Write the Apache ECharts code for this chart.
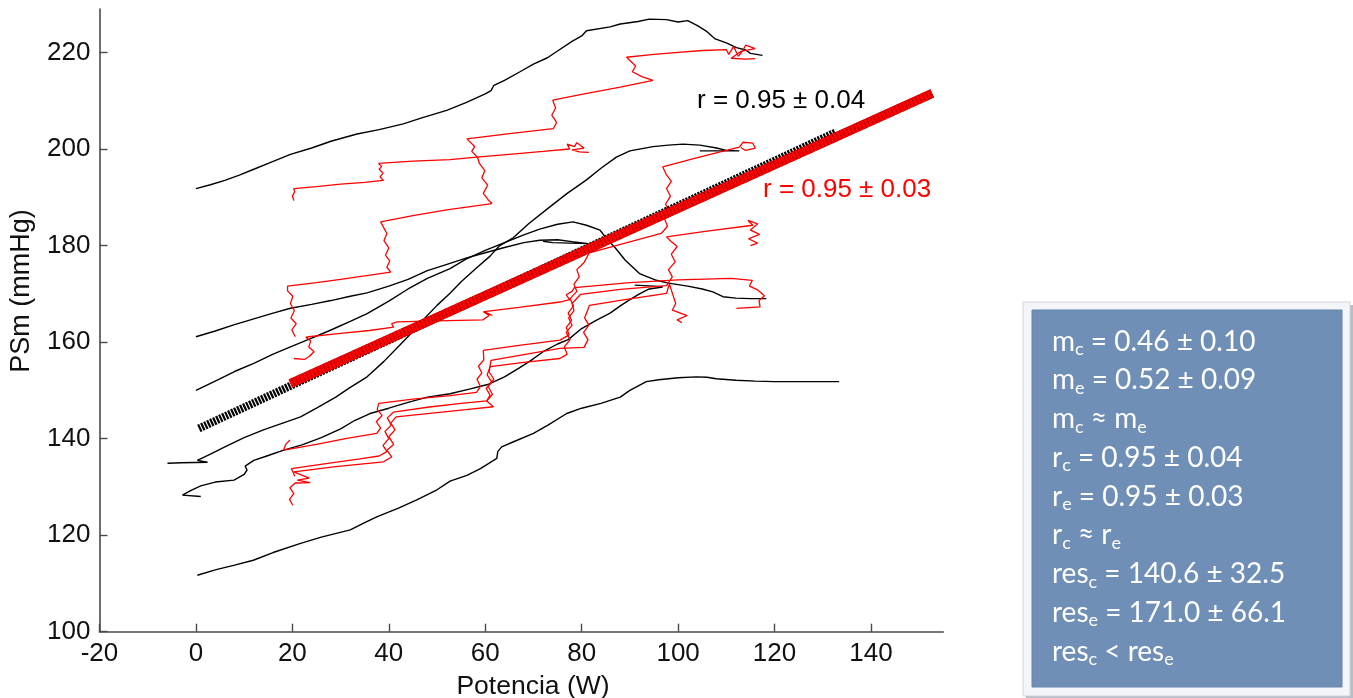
<!DOCTYPE html>
<html><head><meta charset="utf-8">
<script src="https://cdn.jsdelivr.net/npm/echarts@6/dist/echarts.min.js"></script>
<style>html,body{margin:0;padding:0;background:#fff}#c{width:1353px;height:698px}</style>
</head><body><div id="c"></div>
<script>
// ---- axis ticks ----
const xTicks = [-20, 0, 20, 40, 60, 80, 100, 120, 140];
const yTicks = [100, 120, 140, 160, 180, 200, 220];

// ---- control (black) curves: [Potencia W, PSm mmHg] ----
const control1 = [[0,191.8],[3,192.6],[6,193.5],[9,194.6],[12,195.8],[15,197],[19.6,198.9],[24,200.2],[28,201.6],[33.4,203.1],[38,204],[43,205.2],[47,206.5],[52,208],[56,209.6],[60,211.4],[61.2,212.1],[61.8,213.2],[64,214.2],[67.2,216],[70,217.6],[72.9,218.9],[75,220.3],[78,222.3],[80.1,223.5],[81,224.5],[85.9,225.3],[88,225.9],[91.7,226.4],[94,226.9],[97.6,226.8],[100,226.3],[102,226.6],[104.1,225.5],[106,224.3],[107.7,222.8],[110,222],[112.1,221],[114,220.5],[115,219.8],[117.5,219.4]];
const control2 = [[0,161.1],[4,162.3],[8,163.6],[12,164.8],[16,166],[19.6,167],[24,167.8],[28,168.6],[32,169.5],[35.5,170.2],[40,171.6],[44,173],[48,174.8],[52.7,176.3],[56,177.4],[60,178.5],[64,179.6],[68,180.6],[71.3,181.1],[75,181.2],[78,180.8],[81.4,180.4],[74,180.6],[72,180.9]];
const control3 = [[0,150],[4,151.9],[8,153.9],[12,155.6],[16,157.5],[19.6,159],[24,160.8],[28,162.5],[32,164.3],[35.5,165.9],[40,168.5],[44,171],[48,173.2],[52.7,175.2],[56,177.2],[60,179],[64,180.6],[68,182.2],[71.3,183.4],[75,184.4],[78.2,184.9],[81,184.2],[83.8,183.2],[85.1,181.5],[87,179.5],[89,177],[92,174.2],[95.5,172.8],[98,172.2],[102,171.6],[105,171],[107.2,170.4],[109.3,169.4],[112,169.1],[115,169],[118.3,169]];
const control4 = [[-5.9,134.9],[-3,135],[2.4,135.1],[0.3,135.5],[3,136.8],[6,138.3],[10,140.2],[14,141.8],[18,143.2],[21.7,144.5],[25,146.3],[29,148.6],[32,150.6],[35.5,152.8],[39,156],[42.4,159.5],[45,162.2],[47.5,165],[50,167.6],[52.7,170.1],[55,172.5],[58,175.2],[61,177.8],[63,180],[65.8,181.6],[69,184.5],[73.4,188],[77,190.8],[81,193.6],[84,196],[87.2,198.3],[90,199.6],[94.8,200.5],[98,200.8],[101,201],[104.5,200.8],[108,200.2],[110,199.7],[112.7,199.6],[104.5,199.6]];
const control5 = [[1,128],[-2.8,128.3],[-1,129.3],[1,130.2],[4,131],[7.9,131.4],[10,132.6],[10.6,133.5],[10.2,134.3],[12,135.5],[15,136.5],[18.2,137.6],[22,138.7],[26,140.2],[30,142],[33,143.8],[36.1,145.2],[40,146.3],[44,147.5],[48,148.6],[52.7,149.3],[56.9,150.3],[60.5,151.2],[64,152.8],[67,154.6],[69.5,156.2],[72,158],[75,159.6],[77.2,160.5],[80,162.8],[83,164.5],[85.9,166],[88,167.5],[90,168.8],[92,170],[94,171],[96.8,171.4],[95,171.6],[91,171.8]];
const control6 = [[0.3,111.7],[4,112.8],[8,113.8],[11.9,114.8],[16,116.4],[21.7,118.3],[26,119.6],[32,121.1],[35,122.6],[37.5,123.8],[42,125.6],[45.8,127.3],[50,129.4],[52.7,131.2],[56.2,132.4],[59,133.8],[62.4,135.9],[62.6,137.3],[63.4,138.3],[66,139.4],[70,141.1],[73,142.8],[76.9,145.2],[80,146.3],[84,147.3],[88,148.6],[90,150],[93.4,151.8],[96,152.2],[100,152.6],[103.8,152.8],[106,152.7],[107.9,152.4],[112,152.1],[116,151.9],[120,151.8],[125,151.8],[130,151.8],[133.4,151.8]];

// ---- exercise (red) curves ----
const exercise1 = [[20.3,189.3],[20.0,190.3],[20.5,191.1],[20.3,191.8],[25,192.2],[30,192.7],[35,193.1],[38.9,193.5],[38.2,194.2],[38.8,195],[38.0,195.8],[38.5,196.4],[37.9,197.0],[45,197.5],[52.7,197.8],[58.2,198.3],[65,198.9],[72,199.5],[77.5,200],[77,201],[78.5,200.5],[79,201.3],[80.5,200.2],[78,199.8],[79.5,199.4],[81.5,199.3]];
const exercise2 = [[20.6,161.1],[19.9,162.5],[20.8,163.8],[19.7,165],[20.4,166.5],[19.6,168],[20.1,169.5],[19.0,170.6],[19.0,171.6],[25,172.3],[30,173],[35,173.7],[40.4,174.5],[39.6,175.5],[40.2,176.8],[39.3,178],[40.0,179.5],[39.0,181],[39.6,182.5],[38.3,184.9],[45,186.2],[52,187.4],[61.4,188.7],[60.6,189.5],[59.6,190.8],[60.5,192.5],[59.3,194],[59.9,195.5],[58.8,197],[58.4,198.3],[57.2,199.5],[57.8,200.5],[56.2,202.1],[65,203.2],[74.1,204.2],[74.8,205.5],[73.8,207],[74.6,208.5],[74,210.1],[80,211.3],[88,212.8],[94.8,214.2],[92.5,215],[90.5,216],[91.2,217.2],[89.3,219],[95,219.6],[100,220],[105.1,220.4],[110,220.6],[110.5,219.6],[111.5,221.2],[112.5,219.2],[113.5,220.5],[114,221.5],[116,220.8],[113,220.2],[111,218.8],[114,218.6],[116,218.7]];
const exercise3 = [[20.3,156.6],[22.5,156.4],[23.5,157],[24.5,158],[23.4,159],[23.8,160.2],[22.8,161],[23.4,161.1],[30,161.8],[36,162.4],[41,163.1],[40.6,163.8],[41.8,164.2],[50,164.4],[59.5,164.6],[60.8,165.5],[59.6,166.3],[61.5,165.5],[59.8,166.3],[67,167.2],[75.5,168.3],[77.5,168.8],[76.8,169.8],[78,170.5],[78.5,171.3],[90,172.3],[100,172.9],[111,173.2],[115.4,172.8],[114.8,171.6],[116.5,170.8],[117.9,169.6],[116.8,168.6],[117,167.3],[112.1,167]];
const exercise4 = [[19.5,139.7],[18.6,138.8],[18.2,137.6],[25,138.8],[31,140],[37.5,141.1],[38.3,142.2],[37.4,143.5],[38.6,144.8],[37.6,146],[37.9,147.3],[45,148.2],[52.7,148.9],[58.2,149.6],[59,150.8],[58.3,152.3],[59.3,153.6],[58.6,155],[59.7,156.3],[59.6,158.3],[67,159.3],[75.5,160.4],[77.4,161.5],[76.8,163],[77.9,164.5],[77.2,166],[78.3,167.5],[77.6,169],[79,170.5],[78.4,172],[79.5,173.5],[79,175],[80.5,176.5],[81.6,178.5],[89,180.5],[96.5,182.5],[97.8,184],[97.2,185.5],[98.2,187],[97.4,188.6],[98.4,190.2],[97.6,191.8],[98.6,193.3],[97.5,194.8],[96.8,196.3],[104,198.2],[112.7,200.4],[113.5,201.4],[115.5,201.2],[116,200.2],[114,199.7],[113,200.3]];
const exercise5 = [[20.5,132.2],[19.8,133.8],[27,134.8],[34,135.8],[38,136.4],[39.6,137.3],[38.8,138.6],[40,140],[39.2,141.5],[40.5,142.8],[39.7,144.3],[41,145.5],[48,146.5],[55,147.3],[60.3,147.8],[61,149],[60.2,150.4],[61.3,151.8],[60.4,153.2],[61,154.9],[68,155.8],[75.5,156.6],[77,157.5],[76.4,159],[77.6,160.5],[76.8,162],[78,163.5],[77.3,165],[78.4,166.5],[78,168],[79.8,169.9],[88,170.9],[97.6,171.7],[98.8,173.5],[98,175],[99.4,176.6],[98.6,178.2],[99.8,179.8],[98.4,181],[97.6,181.8],[106,183],[115.5,184.2],[114.5,185.2],[116.5,184.5],[115,183.2],[116.9,182.3],[114.6,181.4],[116.5,180.5],[115,180]];
const exercise6 = [[20.1,126.2],[19.4,127.4],[20.3,128.6],[19.5,129.8],[20.6,130.8],[23.7,130.9],[21,131.4],[23.5,131.8],[20.3,133.1],[29,134.2],[38.9,135.2],[40.6,136.2],[39.6,137.6],[41,138.8],[40,140.4],[41.3,141.8],[40.4,143.2],[41.5,144.5],[49,145.3],[56,146],[61.7,146.6],[60.3,147.8],[61.5,149.2],[60.6,150.8],[61.8,152.3],[60.8,153.8],[61.2,156.2],[68,157.4],[75.5,158.7],[80.5,158.9],[81.3,160.5],[80.4,162],[81.5,163.5],[80.6,165],[81.2,166.5],[81.6,167.6],[89,168.8],[97.6,170.1],[98.2,172],[99.5,168],[98.8,166.6],[101.9,165.5],[99.8,164.6],[100.8,164]];

// ---- regression lines (end points) ----
const controlFit = [[0.6,142.1],[132.8,203.5]];
const exerciseFit = [[19.6,151.4],[152.7,211.5]];
const fitLabels = ['r = 0.95 \u00b1 0.04', 'r = 0.95 \u00b1 0.03'];

// ---- statistics box lines ----
const statLines = [
  '{t|m}{s|c}{t| = 0.46 \u00b1 0.10}',
  '{t|m}{s|e}{t| = 0.52 \u00b1 0.09}',
  '{t|m}{s|c}{t| \u2248 m}{s|e}',
  '{t|r}{s|c}{t| = 0.95 \u00b1 0.04}',
  '{t|r}{s|e}{t| = 0.95 \u00b1 0.03}',
  '{t|r}{s|c}{t| \u2248 r}{s|e}',
  '{t|res}{s|c}{t| = 140.6 \u00b1 32.5}',
  '{t|res}{s|e}{t| = 171.0 \u00b1 66.1}',
  '{t|res}{s|c}{t| < res}{s|e}'
];

const controls = [control1, control2, control3, control4, control5, control6];
const exercises = [exercise1, exercise2, exercise3, exercise4, exercise5, exercise6];

const AX = '"Liberation Sans", Arial, sans-serif';
const BOXF = 'Lato, "Open Sans", sans-serif';

const series = [];
controls.forEach(d => series.push({type:'line', data:d, symbol:'none', silent:true, z:2,
  lineStyle:{color:'#000', width:1.4}}));
exercises.forEach(d => series.push({type:'line', data:d, symbol:'none', silent:true, z:2,
  lineStyle:{color:'#ff0000', width:1.3}}));
series.push({type:'line', data:controlFit, symbol:'none', silent:true, z:3,
  lineStyle:{color:'#000', width:8, type:[2.2,1.1], cap:'butt'}});
series.push({type:'line', data:exerciseFit, symbol:'none', silent:true, z:4,
  lineStyle:{color:'#a00000', width:9, cap:'butt'}});
series.push({type:'line', data:exerciseFit, symbol:'none', silent:true, z:5,
  lineStyle:{color:'#ff0000', width:9, type:[3,0.8], cap:'butt'}});

const statTexts = statLines.map((s, i) => ({
  type:'text', x:1052, y:341.7 + i*38.75, z:20,
  style:{text:s, verticalAlign:'middle', textVerticalAlign:'middle', align:'left',
    rich:{
      t:{fontSize:28, fontFamily:BOXF, fill:'#ffffff', color:'#ffffff'},
      s:{fontSize:18, fontFamily:BOXF, fill:'#ffffff', color:'#ffffff', padding:[15,0,0,0]}
    }}
}));

const chart = echarts.init(document.getElementById('c'), null, {renderer:'canvas'});
chart.setOption({
  animation:false,
  backgroundColor:'#ffffff',
  grid:{left:99.5, right:1353-943.3, top:9, bottom:66.3, containLabel:false},
  xAxis:{type:'value', min:-20, max:155, interval:20,
    axisLine:{show:true, onZero:false, lineStyle:{color:'#4a4a4a', width:1.6}},
    axisTick:{show:true, inside:true, length:8, customValues:xTicks, lineStyle:{color:'#4a4a4a', width:1.4}},
    axisLabel:{customValues:xTicks, margin:9, fontSize:26, fontFamily:AX, color:'#111'},
    splitLine:{show:false}},
  yAxis:{type:'value', min:100, max:229, interval:20,
    axisLine:{show:true, onZero:false, lineStyle:{color:'#4a4a4a', width:1.6}},
    axisTick:{show:true, inside:true, length:8, customValues:yTicks, lineStyle:{color:'#4a4a4a', width:1.4}},
    axisLabel:{customValues:yTicks, margin:9, fontSize:26, fontFamily:AX, color:'#111'},
    splitLine:{show:false}},
  series:series,
  graphic:[
    {type:'text', x:22, y:291, rotation:Math.PI/2, z:10,
      style:{text:'PSm (mmHg)', fontSize:27, fontFamily:AX, fill:'#111', align:'center', verticalAlign:'middle', textAlign:'center', textVerticalAlign:'middle'}},
    {type:'text', x:533, y:687, z:10,
      style:{text:'Potencia (W)', fontSize:26.5, fontFamily:AX, fill:'#111', align:'center', verticalAlign:'middle', textAlign:'center', textVerticalAlign:'middle'}},
    {type:'text', x:697, y:101, z:10,
      style:{text:fitLabels[0], fontSize:26, fontFamily:AX, fill:'#000', align:'left', verticalAlign:'middle', textAlign:'left', textVerticalAlign:'middle'}},
    {type:'text', x:763, y:190, z:10,
      style:{text:fitLabels[1], fontSize:26, fontFamily:AX, fill:'#ff0000', align:'left', verticalAlign:'middle', textAlign:'left', textVerticalAlign:'middle'}},
    {type:'rect', z:8, shape:{x:1026, y:305, width:327, height:393}, style:{fill:'#b9bec6'}},
    {type:'rect', z:9, shape:{x:1023, y:302, width:327, height:394}, style:{fill:'#f3f5f8', stroke:'#cfd4db', lineWidth:1}},
    {type:'rect', z:10, shape:{x:1032, y:310, width:310, height:377}, style:{fill:'#6f8fb7', stroke:'#6585ad', lineWidth:1}}
  ].concat(statTexts)
});
</script>
</body></html>
